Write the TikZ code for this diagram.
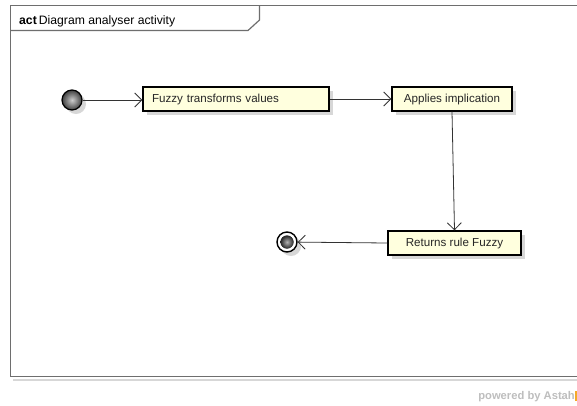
\documentclass[tikz,border=0pt]{standalone}
\usepackage{fontspec}
\setmainfont{Liberation Sans}
\usetikzlibrary{arrows.meta,shadows,calc}
\definecolor{boxfill}{RGB}{255,255,222}
\definecolor{framecol}{RGB}{110,110,110}
\definecolor{shadowcol}{RGB}{215,215,215}
\definecolor{astahgray}{RGB}{190,190,190}
\definecolor{astahorange}{RGB}{245,170,40}
\tikzset{
  x=1pt, y=-1pt,
  action/.style={draw=black, line width=1.4pt, fill=boxfill, minimum height=24pt,
    inner sep=0pt, font=\fontsize{11.6}{13}\selectfont, text=black!85,
    drop shadow={shadow xshift=4pt, shadow yshift=-4pt, fill=shadowcol, opacity=1}},
  flow/.style={draw=black!80, line width=0.8pt, -{Straight Barb[length=7pt, width=14pt, line width=0.8pt]}},
  initnode/.style={circle, draw=black, line width=1.2pt, minimum size=20pt, inner sep=0pt,
    inner color=gray!40, outer color=black!75,
    drop shadow={shadow xshift=4pt, shadow yshift=-4pt, fill=shadowcol, opacity=1}},
  finalnode/.style={circle, draw=black, line width=1.4pt, minimum size=20pt, inner sep=0pt, fill=white,
    drop shadow={shadow xshift=4pt, shadow yshift=-4pt, fill=shadowcol, opacity=1}},
}
\begin{document}
\begin{tikzpicture}
\useasboundingbox (0,0) rectangle (577,405);
\fill[white] (0,0) rectangle (577,405);
% frame
\draw[shadowcol, line width=2pt] (13,380) -- (580,380);
\draw[framecol, line width=1.5pt] (580,5.5) -- (10.5,5.5) -- (10.5,376.5) -- (580,376.5);
\draw[framecol, line width=1.2pt] (10.5,30.5) -- (248,30.5) -- (259.5,20) -- (259.5,5.5);
\node[anchor=base west, inner sep=0pt, font=\fontsize{12.2}{14}\selectfont] (title) at (19,24)
  {\textbf{act}\,Diagram analyser activity};
% nodes
\node[initnode] (start) at (72,100) {};
\node[action, minimum width=186pt, text width=168pt, align=left] (a1) at (236,99) {Fuzzy transforms values};
\node[action, minimum width=120pt, align=center] (a2) at (452,99) {Applies implication};
\node[action, minimum width=133pt, align=center] (a3) at (454.5,243) {Returns rule Fuzzy};
\node[finalnode] (end) at (287,242) {};
\fill[inner color=gray!60, outer color=black!85] (end.center) circle (6.5pt);
% flows
\draw[flow] (start) -- (a1.west |- start);
\draw[flow] (a1) -- (a2);
\draw[flow] (a2.south) -- (a3.north);
\draw[flow] (a3.west) -- (end);
% powered by
\node[anchor=base east, inner sep=0pt, font=\fontsize{11.2}{12}\selectfont\bfseries, text=astahgray] (pw) at (575,399)
  {powered by Astah};
\fill[astahorange] (pw.south east) ++(0,-1) rectangle ++(2,-10);
\end{tikzpicture}
\end{document}
